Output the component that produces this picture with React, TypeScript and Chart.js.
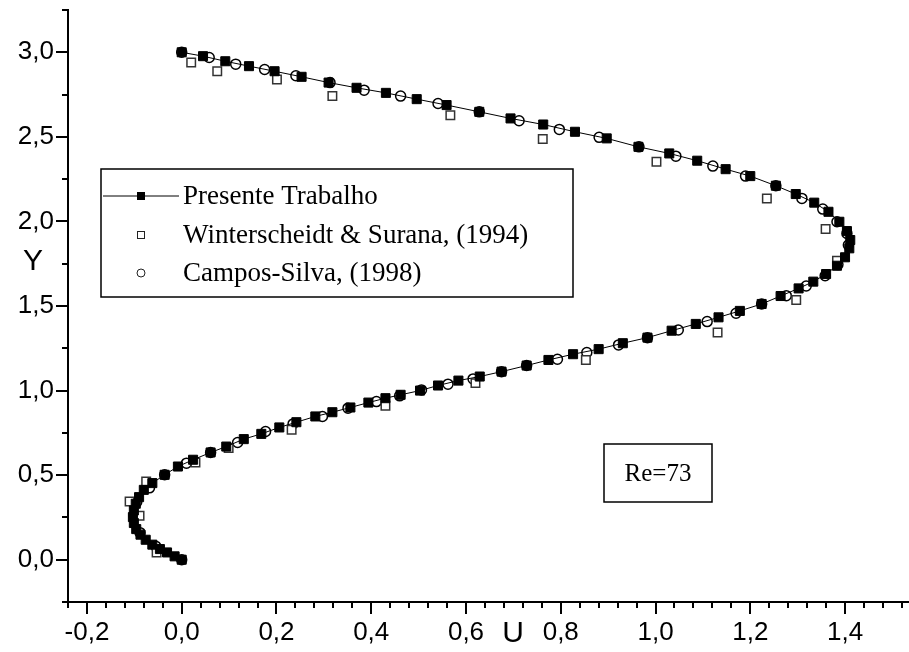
import { useEffect, useRef } from "react";
import { Chart, registerables } from "chart.js";

Chart.register(...registerables);

// Velocity profile U(Y), Re = 73
const presenteU = [
  0.0, -0.015, -0.031, -0.046, -0.062, -0.076, -0.087, -0.096, -0.101, -0.103,
  -0.101, -0.097, -0.09, -0.08, -0.062, -0.036, -0.008, 0.024, 0.061, 0.094,
  0.131, 0.168, 0.206, 0.242, 0.282, 0.318, 0.356, 0.394, 0.43, 0.462,
  0.503, 0.541, 0.584, 0.629, 0.675, 0.728, 0.774, 0.826, 0.88, 0.931,
  0.983, 1.034, 1.085, 1.133, 1.178, 1.224, 1.264, 1.302, 1.333, 1.36,
  1.383, 1.4, 1.409, 1.411, 1.404, 1.388, 1.365, 1.335, 1.296, 1.254,
  1.2, 1.148, 1.088, 1.029, 0.964, 0.897, 0.83, 0.763, 0.694, 0.628,
  0.559, 0.496, 0.431, 0.369, 0.31, 0.253, 0.196, 0.142, 0.092, 0.045, 0.0,
];
const presenteY = [
  0.0, 0.02, 0.043, 0.063, 0.089, 0.118, 0.148, 0.181, 0.217, 0.252,
  0.291, 0.331, 0.37, 0.413, 0.453, 0.502, 0.551, 0.591, 0.634, 0.669,
  0.713, 0.744, 0.782, 0.813, 0.847, 0.872, 0.9, 0.929, 0.955, 0.975,
  1.0, 1.03, 1.059, 1.083, 1.112, 1.148, 1.181, 1.215, 1.245, 1.28,
  1.313, 1.354, 1.394, 1.433, 1.471, 1.512, 1.559, 1.604, 1.644, 1.689,
  1.738, 1.788, 1.841, 1.89, 1.943, 1.998, 2.057, 2.111, 2.162, 2.211,
  2.268, 2.309, 2.359, 2.402, 2.441, 2.491, 2.53, 2.573, 2.609, 2.648,
  2.688, 2.723, 2.76, 2.79, 2.821, 2.855, 2.888, 2.918, 2.947, 2.977, 3.0,
];

const wintU = [
  -0.053, -0.089, -0.11, -0.075, 0.029, 0.099, 0.232, 0.43, 0.62, 0.853, 1.131,
  1.297, 1.383, 1.359, 1.235, 1.002, 0.762, 0.567, 0.318, 0.201, 0.075, 0.02,
];
const wintY = [
  0.043, 0.26, 0.344, 0.462, 0.575, 0.66, 0.768, 0.91, 1.044, 1.181, 1.343,
  1.536, 1.768, 1.955, 2.136, 2.353, 2.487, 2.628, 2.741, 2.839, 2.888, 2.94,
];

const camposU = [
  0.0, -0.055, -0.088, -0.101, -0.095, -0.068, -0.036, 0.01, 0.061, 0.118,
  0.177, 0.235, 0.297, 0.351, 0.411, 0.46, 0.506, 0.562, 0.615, 0.675,
  0.728, 0.793, 0.855, 0.922, 0.983, 1.048, 1.109, 1.17, 1.224, 1.276,
  1.318, 1.358, 1.385, 1.407, 1.404, 1.383, 1.353, 1.309, 1.254, 1.19,
  1.121, 1.043, 0.965, 0.881, 0.797, 0.712, 0.628, 0.541, 0.462, 0.385,
  0.313, 0.241, 0.175, 0.114, 0.058, 0.0,
];
const camposY = [
  0.0, 0.08, 0.16, 0.26, 0.34, 0.425, 0.502, 0.571, 0.634, 0.693,
  0.758, 0.803, 0.847, 0.896, 0.935, 0.969, 1.004, 1.038, 1.069, 1.112,
  1.148, 1.185, 1.225, 1.27, 1.313, 1.358, 1.408, 1.457, 1.512, 1.561,
  1.618, 1.679, 1.745, 1.86, 1.929, 1.998, 2.073, 2.136, 2.211, 2.268,
  2.327, 2.386, 2.441, 2.497, 2.544, 2.595, 2.648, 2.697, 2.741, 2.776,
  2.821, 2.861, 2.898, 2.93, 2.969, 3.0,
];

const seriesNames = [
  "Presente Trabalho",
  "Winterscheidt & Surana, (1994)",
  "Campos-Silva, (1998)",
];
const annotationText = "Re=73";
const xTitle = "U";
const yTitle = "Y";

const xRange = [-0.24, 1.535];
const yRange = [-0.25, 3.25];
const xMajor = 0.2;
const xMinor = 0.04;
const yMajor = 0.5;
const yMinor = 0.25;

const SANS = "'Liberation Sans', Arial, sans-serif";
const SERIF = "'Liberation Serif', 'Times New Roman', serif";

const toPoints = (us: number[], ys: number[]) => us.map((u, i) => ({ x: u, y: ys[i] }));

const isMultiple = (v: number, step: number) =>
  Math.abs(v / step - Math.round(v / step)) < 1e-6;

const fmt = (v: number) => {
  let r = Math.round(v * 10) / 10;
  if (Math.abs(r) < 1e-9) r = 0;
  return r.toFixed(1).replace(".", ",");
};

// Outward tick marks: long on labelled values, short in between
const axisTicks = {
  id: "axisTicks",
  afterDraw(chart: any) {
    const { ctx, scales } = chart;
    const x = scales.x;
    const y = scales.y;
    ctx.save();
    ctx.strokeStyle = "#000";
    ctx.lineWidth = 2;
    const kx0 = Math.ceil(x.min / xMinor - 1e-6);
    for (let k = kx0; k * xMinor <= x.max + 1e-9; k++) {
      const v = k * xMinor;
      const px = Math.round(x.getPixelForValue(v));
      const len = isMultiple(v, xMajor) ? 12 : 6;
      ctx.beginPath();
      ctx.moveTo(px, x.top);
      ctx.lineTo(px, x.top + len);
      ctx.stroke();
    }
    const ky0 = Math.ceil(y.min / yMinor - 1e-6);
    for (let k = ky0; k * yMinor <= y.max + 1e-9; k++) {
      const v = k * yMinor;
      const py = Math.round(y.getPixelForValue(v));
      const len = isMultiple(v, yMajor) ? 12 : 6;
      ctx.beginPath();
      ctx.moveTo(y.right, py);
      ctx.lineTo(y.right - len, py);
      ctx.stroke();
    }
    ctx.restore();
  },
};

// Axis letters, legend box and the Reynolds number label
const decorations = {
  id: "decorations",
  afterDraw(chart: any) {
    const { ctx } = chart;
    ctx.save();
    ctx.fillStyle = "#000";
    ctx.textBaseline = "middle";
    ctx.textAlign = "center";
    ctx.font = `30px ${SANS}`;
    ctx.fillText(yTitle, 33, 262);
    ctx.fillText(xTitle, 513, 634);

    // legend
    const lx = 101, ly = 169, lw = 472, lh = 128;
    ctx.strokeStyle = "#000";
    ctx.lineWidth = 1.5;
    ctx.strokeRect(lx, ly, lw, lh);
    const rows = [196, 235, 273];
    const mx = 141;
    ctx.lineWidth = 1;
    ctx.beginPath();
    ctx.moveTo(lx + 2, rows[0]);
    ctx.lineTo(mx + 38, rows[0]);
    ctx.stroke();
    ctx.fillRect(mx - 4, rows[0] - 4, 8, 8);
    ctx.strokeStyle = "#222";
    ctx.strokeRect(mx - 3.5, rows[1] - 3.5, 7, 7);
    ctx.beginPath();
    ctx.arc(mx, rows[2], 4, 0, Math.PI * 2);
    ctx.stroke();
    ctx.textAlign = "left";
    ctx.font = `27px ${SERIF}`;
    seriesNames.forEach((name, i) => ctx.fillText(name, 183, rows[i] + 1));

    // Re label
    ctx.strokeStyle = "#000";
    ctx.lineWidth = 1.5;
    ctx.strokeRect(604, 444, 108, 58);
    ctx.textAlign = "center";
    ctx.font = `25px ${SERIF}`;
    ctx.fillText(annotationText, 658, 474);
    ctx.restore();
  },
};

export default function App() {
  const canvasRef = useRef<HTMLCanvasElement | null>(null);

  useEffect(() => {
    const canvas = canvasRef.current;
    if (!canvas) return;
    const chart = new Chart(canvas, {
      type: "scatter",
      data: {
        datasets: [
          {
            label: seriesNames[0],
            data: toPoints(presenteU, presenteY),
            showLine: true,
            borderColor: "#000",
            borderWidth: 1,
            backgroundColor: "#000",
            pointStyle: "rect",
            pointRadius: 6.4,
            pointBorderWidth: 1,
            pointBorderColor: "#000",
            pointBackgroundColor: "#000",
          },
          {
            label: seriesNames[1],
            data: toPoints(wintU, wintY),
            showLine: false,
            pointStyle: "rect",
            pointRadius: 6,
            pointBorderWidth: 1.5,
            pointBorderColor: "#333",
            pointBackgroundColor: "#fff",
          },
          {
            label: seriesNames[2],
            data: toPoints(camposU, camposY),
            showLine: false,
            pointStyle: "circle",
            pointRadius: 5,
            pointBorderWidth: 1.5,
            pointBorderColor: "#000",
            pointBackgroundColor: "rgba(255,255,255,0)",
          },
        ],
      },
      options: {
        responsive: false,
        animation: false,
        events: [],
        layout: { autoPadding: false, padding: { top: 10, right: 0, left: 0, bottom: 0 } },
        plugins: {
          legend: { display: false },
          tooltip: { enabled: false },
        },
        scales: {
          x: {
            type: "linear",
            min: xRange[0],
            max: xRange[1],
            afterFit: (s: any) => {
              s.height = 50;
              s.paddingLeft = 0;
              s.paddingRight = 0;
            },
            border: { display: true, color: "#000", width: 2 },
            grid: {
              drawOnChartArea: false,
              drawTicks: true,
              tickLength: 12,
              color: "rgba(0,0,0,0)",
            },
            ticks: {
              stepSize: xMinor,
              autoSkip: false,
              maxRotation: 0,
              minRotation: 0,
              padding: 3,
              color: "#000",
              font: { family: SANS, size: 26 },
              callback: (v: any) => (isMultiple(Number(v), xMajor) ? fmt(Number(v)) : ""),
            },
          },
          y: {
            type: "linear",
            min: yRange[0],
            max: yRange[1],
            afterFit: (s: any) => {
              s.width = 68;
              s.paddingTop = 0;
              s.paddingBottom = 0;
            },
            border: { display: true, color: "#000", width: 2 },
            grid: {
              drawOnChartArea: false,
              drawTicks: true,
              tickLength: 12,
              color: "rgba(0,0,0,0)",
            },
            ticks: {
              stepSize: yMinor,
              autoSkip: false,
              padding: 2,
              color: "#000",
              font: { family: SANS, size: 26 },
              callback: (v: any) => (isMultiple(Number(v), yMajor) ? fmt(Number(v)) : ""),
            },
          },
        },
      },
      plugins: [axisTicks, decorations],
    });
    return () => chart.destroy();
  }, []);

  return (
    <div style={{ position: "absolute", left: 0, top: 0, width: 909, height: 652, background: "#fff" }}>
      <canvas ref={canvasRef} width={909} height={652} />
    </div>
  );
}
